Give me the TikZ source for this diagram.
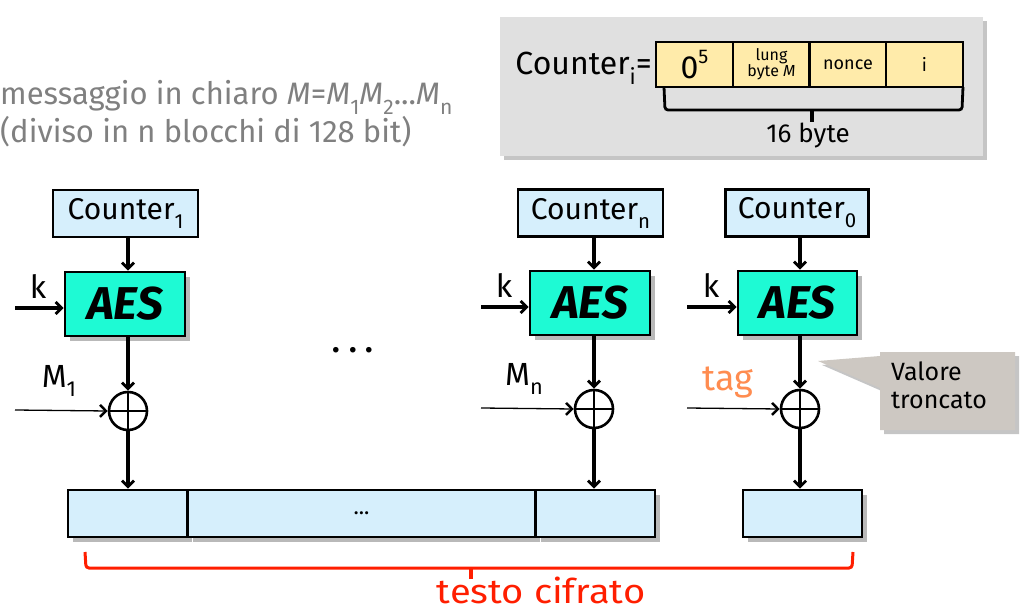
\documentclass[tikz,border=0pt]{standalone}
\usepackage{fontspec}
\setmainfont{Fira Sans}
\usetikzlibrary{arrows.meta,shadows,calc}
\definecolor{ctrblue}{RGB}{214,239,252}
\definecolor{aescyan}{RGB}{30,250,212}
\definecolor{cellyel}{RGB}{255,235,170}
\definecolor{panelgray}{RGB}{224,224,224}
\definecolor{callgray}{RGB}{205,200,194}
\definecolor{tagorange}{RGB}{255,140,80}
\definecolor{brred}{RGB}{255,30,0}
\definecolor{txtgray}{RGB}{128,128,128}
\newcommand{\lowsub}[1]{\raisebox{-0.3em}{\scalebox{0.68}{#1}}}
\newcommand{\hisup}[1]{\raisebox{0.45em}{\scalebox{0.62}{#1}}}
\tikzset{
  shad/.style={drop shadow={shadow xshift=5pt,shadow yshift=-5pt,fill=black!50,opacity=0.55}},
  ctrbox/.style={draw,line width=2.6pt,fill=ctrblue,minimum width=145pt,minimum height=47pt,inner sep=0pt,font=\fontsize{30}{30}\selectfont},
  aesbox/.style={draw,line width=2.6pt,fill=aescyan,minimum width=120pt,minimum height=64pt,inner sep=0pt,font=\fontsize{46}{46}\selectfont\bfseries\itshape,shad},
  outbox/.style={draw,line width=2.6pt,fill=ctrblue,minimum height=47pt,inner sep=0pt,shad},
  cell/.style={draw,line width=2.6pt,fill=cellyel,minimum width=77pt,minimum height=45pt,inner sep=0pt,font=\fontsize{18}{17}\selectfont,align=center},
  xorc/.style={draw,line width=2.6pt,circle,minimum size=38pt,inner sep=0pt,path picture={\draw[line width=2.6pt] (path picture bounding box.north) -- (path picture bounding box.south) (path picture bounding box.west) -- (path picture bounding box.east);}},
  arr/.style={line width=3.4pt,-{Straight Barb[length=6pt,width=12pt,line width=2.8pt]}},
  thinarr/.style={line width=1.3pt,-{Straight Barb[length=6pt,width=12pt,line width=2.4pt]}},
  lbl/.style={font=\fontsize{32}{32}\selectfont,inner sep=0pt},
}
\begin{document}
\begin{tikzpicture}[x=1pt,y=-1pt]
\useasboundingbox (0,0) rectangle (1029,610);
% top-left text
\node[anchor=west,text=txtgray,font=\fontsize{31}{38}\selectfont,align=left,inner sep=0pt] (msg) at (0,114)
  {messaggio in chiaro \textit{M}=\textit{M}\lowsub{1}\textit{M}\lowsub{2}...\textit{M}\lowsub{n}\\(diviso in n blocchi di 128 bit)};
% panel
\node[fill=panelgray,minimum width=483pt,minimum height=139pt,inner sep=0pt,anchor=north west,drop shadow={shadow xshift=4pt,shadow yshift=-4pt,fill=black!45,opacity=0.5}] (panel) at (500,17) {};
\node[anchor=east,font=\fontsize{32}{32}\selectfont,inner sep=0pt] (cieq) at (652,68) {Counter\lowsub{i}=};
\node[cell,font=\fontsize{32}{32}\selectfont] (c1) at (694.5,64.5) {0\hisup{5}};
\node[cell,font=\fontsize{16}{15}\selectfont] (c2) at (771.5,64.5) {lung\\byte \textit{M}};
\node[cell] (c3) at (848,64.5) {nonce};
\node[cell] (c4) at (924.5,64.5) {i};
\draw[line width=2.8pt,rounded corners=3pt] (664,87) -- (665,110) -- (962,110) -- (963,87);
\coordinate (btip) at (812,122);
\draw[line width=3.2pt] (812,110) -- (btip);
\node[font=\fontsize{26}{26}\selectfont,inner sep=0pt] (sixteen) at (808,136) {16 byte};
% column 1
\node[ctrbox] (ctr1) at (125.5,213.5) {Counter\lowsub{1}};
\node[aesbox] (aes1) at (125,304) {AES};
\node[xorc] (x1) at (128,411) {};
\coordinate (k1s) at (15,308);
\coordinate (m1s) at (15,410);
\draw[arr] (ctr1.south -| x1) -- (aes1.north -| x1);
\draw[arr] (k1s) -- (k1s -| aes1.west);
\draw[arr] (aes1.south -| x1) -- (x1.north);
\draw[thinarr] (m1s) -- (x1.west);
\node[lbl] (k1) at (38,286) {k};
\node[lbl] (m1) at (59,381) {M\lowsub{1}};
% column n
\node[ctrbox] (ctrn) at (590.5,213) {Counter\lowsub{n}};
\node[aesbox] (aesn) at (590,303) {AES};
\node[xorc] (xn) at (594,409) {};
\coordinate (kns) at (481,307);
\coordinate (mns) at (481,408);
\draw[arr] (ctrn.south -| xn) -- (aesn.north -| xn);
\draw[arr] (kns) -- (kns -| aesn.west);
\draw[arr] (aesn.south -| xn) -- (xn.north);
\draw[thinarr] (mns) -- (xn.west);
\node[lbl] (kn) at (504,285) {k};
\node[lbl] (mn) at (524,379) {M\lowsub{n}};
% column 0
\node[ctrbox,minimum width=143pt] (ctr0) at (797,213) {Counter\lowsub{0}};
\node[aesbox,minimum width=119pt] (aes0) at (797.5,303) {AES};
\node[xorc] (x0) at (800,409) {};
\coordinate (k0s) at (687,307);
\coordinate (t0s) at (687,408);
\draw[arr] (ctr0.south -| x0) -- (aes0.north -| x0);
\draw[arr] (k0s) -- (k0s -| aes0.west);
\draw[arr] (aes0.south -| x0) -- (x0.north);
\draw[thinarr] (t0s) -- (x0.west);
\node[lbl] (k0) at (711,285) {k};
\node[lbl,text=tagorange,font=\fontsize{36}{36}\selectfont] (tag) at (728,383) {tag};
% middle dots
\node[font=\fontsize{40}{40}\selectfont,inner sep=0pt] (mdots) at (353,350) {.\,.\,.};
% output boxes
\node[outbox,minimum width=119pt] (o1) at (127.5,513.5) {};
\node[outbox,minimum width=347pt,font=\fontsize{22}{22}\selectfont] (o2) at (361.5,513.5) {...};
\node[outbox,minimum width=119pt] (o3) at (595.5,513.5) {};
\node[outbox,minimum width=119pt] (o4) at (802.5,513.5) {};
\draw[arr] (x1.south) -- (x1 |- o1.north);
\draw[arr] (xn.south) -- (xn |- o3.north);
\draw[arr] (x0.south) -- (x0 |- o4.north);
% red brace
\draw[brred,line width=3pt,rounded corners=3pt] (85,552) -- (86,568) -- (852,568) -- (853,552);
\coordinate (rtip) at (471,579);
\draw[brred,line width=3.2pt] (471,568) -- (rtip);
\node[text=brred,font=\fontsize{34}{34}\selectfont,inner sep=0pt,anchor=base] (cif) at (541,603) {\scalebox{1.12}[1]{testo cifrato}};
% callout
\fill[callgray,drop shadow={shadow xshift=4pt,shadow yshift=-4pt,fill=black!45,opacity=0.5}]
  (880,352) -- (1015,352) -- (1015,430) -- (880,430) -- (880,388) -- (818,361) -- (880,356) -- cycle;
\node[anchor=north west,align=left,font=\fontsize{25}{28}\selectfont,inner sep=0pt] (valore) at (891,362) {Valore\\troncato};
\end{tikzpicture}
\end{document}
